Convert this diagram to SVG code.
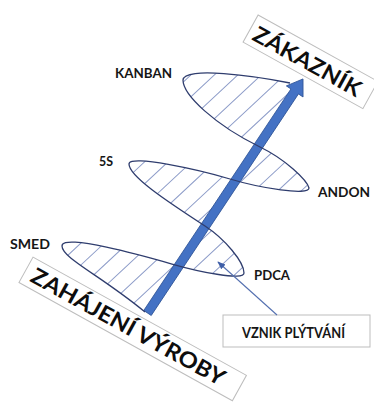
<svg xmlns="http://www.w3.org/2000/svg" width="374" height="405" viewBox="0 0 374 405">
<defs>
<style>
.lbl{font-family:Lato,"Liberation Sans",sans-serif;font-weight:700;font-size:14px;fill:#161616}
.big{font-family:Lato,"Liberation Sans",sans-serif;font-weight:700;font-size:22px;fill:#0d0d0d}
.box{fill:#fff;stroke:#bdbdbd;stroke-width:1}
.hatchlines{fill:none;stroke:#8e9dc9;stroke-width:1}
.coil{fill:none;stroke:#2f3d6e;stroke-width:1.3;stroke-linejoin:round}
.ptr{fill:none;stroke:#5470b0;stroke-width:1.1}
</style>
<clipPath id="lobes">
<path d="M290,83 C255,76 184,66 183,80 C183,95 215,125 260,147 L258,147 L300,83 Z"/>
<path d="M260,147 C285,159 307,180 309,188 C309,196 260,188 230,179 L236,179 L258,147 Z"/>
<path d="M230,179 C200,170 129,154 129,164 C129,176 165,200 205,226 L236,179 Z"/>
<path d="M205,226 C225,239 244,262 244,273 C244,281 200,272 172,264 L180,264 Z"/>
<path d="M172,264 C144,256 62,233 62,246 C62,258 100,275 145,312 L148,312 L180,264 Z"/>
</clipPath>
<marker id="ah" viewBox="0 0 10 10" refX="9" refY="5" markerWidth="8" markerHeight="8" markerUnits="userSpaceOnUse" orient="auto">
<path d="M0,1 L10,5 L0,9 Z" fill="#3f5fa8"/>
</marker>
</defs>
<rect width="374" height="405" fill="#fff"/>

<g id="hatching" clip-path="url(#lobes)">
<path class="hatchlines" transform="rotate(-43)" d="M-300,9H300M-300,25H300M-300,41H300M-300,57H300M-300,73H300M-300,89H300M-300,105H300M-300,121H300M-300,137H300M-300,153H300M-300,169H300M-300,185H300M-300,201H300M-300,217H300M-300,233H300M-300,249H300M-300,265H300M-300,281H300M-300,297H300M-300,313H300M-300,329H300M-300,345H300M-300,361H300M-300,377H300M-300,393H300M-300,409H300M-300,425H300M-300,441H300M-300,457H300M-300,473H300M-300,489H300M-300,505H300M-300,521H300M-300,537H300M-300,553H300"/>
</g>

<g id="axis-arrow" transform="translate(147.5,313) rotate(-56.4)">
<path d="M0,-4.5 H266 V-10 L281,0 L266,10 V4.5 H0 Z" fill="#4472c4" stroke="#2f5597" stroke-width="0.8"/>
</g>

<path id="coil" class="coil" d="M290,83 C255,76 184,66 183,80 C183,95 215,125 260,147 C285,159 307,180 309,188 C309,196 260,188 230,179 C200,170 129,154 129,164 C129,176 165,200 205,226 C225,239 244,262 244,273 C244,281 200,272 172,264 C144,256 62,233 62,246 C62,258 100,275 145,312"/>

<g id="zakaznik" transform="translate(310.5,61.8) rotate(29)">
<rect class="box" x="-68.5" y="-15.5" width="137" height="31"/>
<text class="big" x="-3" y="9" text-anchor="middle" textLength="120" lengthAdjust="spacingAndGlyphs">ZÁKAZNÍK</text>
</g>

<g id="zahajeni" transform="translate(132.7,328.9) rotate(29)">
<rect class="box" x="-122" y="-14.5" width="244" height="29"/>
<text class="big" x="-5" y="8" text-anchor="middle" textLength="218" lengthAdjust="spacingAndGlyphs">ZAHÁJENÍ VÝROBY</text>
</g>

<g id="kanban"><text class="lbl" x="115" y="78" textLength="57" lengthAdjust="spacingAndGlyphs">KANBAN</text></g>
<g id="s5"><text class="lbl" x="99" y="166" textLength="14" lengthAdjust="spacingAndGlyphs">5S</text></g>
<g id="andon"><text class="lbl" x="318" y="197" textLength="52" lengthAdjust="spacingAndGlyphs">ANDON</text></g>
<g id="smed"><text class="lbl" x="10" y="249" textLength="40" lengthAdjust="spacingAndGlyphs">SMED</text></g>
<g id="pdca"><text class="lbl" x="254" y="280" textLength="36" lengthAdjust="spacingAndGlyphs">PDCA</text></g>

<g id="vznik">
<rect class="box" x="223" y="315" width="147" height="32" stroke="#7f7f7f"/>
<text class="lbl" x="242" y="338" style="font-size:15px" textLength="103" lengthAdjust="spacingAndGlyphs">VZNIK PLÝTVÁNÍ</text>
</g>

<g id="connectors">
<line class="ptr" x1="277" y1="315" x2="218" y2="262" marker-end="url(#ah)"/>
</g>
</svg>
